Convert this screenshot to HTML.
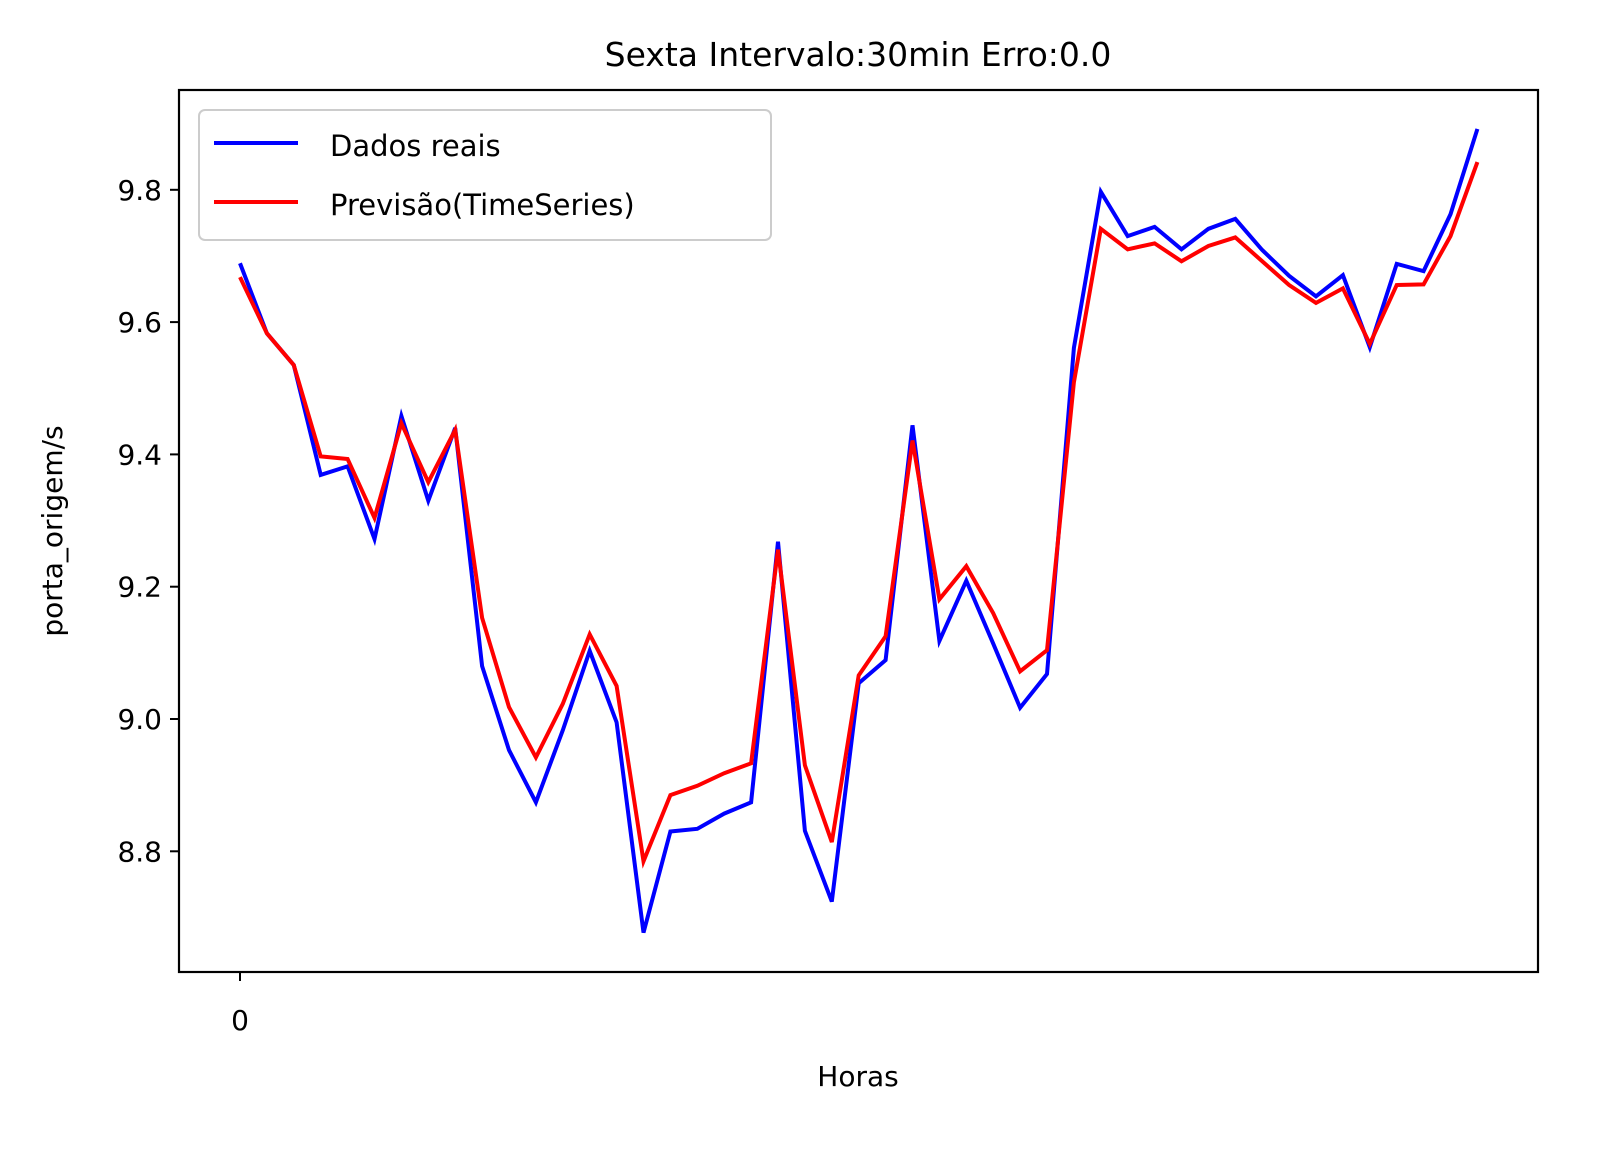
<!DOCTYPE html>
<html><head><meta charset="utf-8">
<style>
body{margin:0;background:#fff;}
svg text{font-family:"DejaVu Sans","Liberation Sans",sans-serif;fill:#000;}
</style></head>
<body>
<svg id="chart" width="1608" height="1154" viewBox="0 0 1608 1154" xmlns="http://www.w3.org/2000/svg">
<rect width="1608" height="1154" fill="#fff"/>
<text x="858" y="66" font-size="33" text-anchor="middle">Sexta Intervalo:30min Erro:0.0</text>
<g id="yticks"></g>
<g id="xticks"></g>
<g id="series"></g>
<rect x="179" y="90" width="1359" height="882" fill="none" stroke="#000" stroke-width="2.2"/>
<text x="858" y="1086" font-size="28" text-anchor="middle">Horas</text>
<text transform="translate(62,531) rotate(-90)" font-size="28" text-anchor="middle">porta_origem/s</text>
<g>
<rect x="199" y="110" width="572" height="130" rx="6" fill="#fff" fill-opacity="0.8" stroke="#ccc" stroke-width="2"/>
<g>
<line x1="214" y1="143" x2="298" y2="143" stroke="#0000ff" stroke-width="4"/>
<text x="330" y="156" font-size="29">Dados reais</text></g>
<g>
<line x1="214" y1="202" x2="298" y2="202" stroke="#ff0000" stroke-width="4"/>
<text x="330" y="215" font-size="29">Previsão(TimeSeries)</text></g>
</g>
</svg>
<script>
const yTicks=[8.8,9.0,9.2,9.4,9.6,9.8];
const yTickLabels=["8.8","9.0","9.2","9.4","9.6","9.8"];
const xTicks=[0];
const xTickLabels=["0"];
const realValues=[9.689,9.583,9.535,9.369,9.382,9.272,9.458,9.33,9.44,9.08,8.953,8.874,8.983,9.103,8.995,8.677,8.83,8.834,8.857,8.874,9.268,8.831,8.724,9.054,9.089,9.444,9.118,9.209,9.114,9.017,9.068,9.561,9.797,9.730,9.744,9.71,9.741,9.756,9.709,9.67,9.639,9.671,9.562,9.688,9.677,9.763,9.892];
const predValues=[9.668,9.583,9.535,9.397,9.393,9.304,9.447,9.358,9.437,9.153,9.018,8.942,9.023,9.128,9.05,8.785,8.885,8.899,8.918,8.933,9.256,8.930,8.814,9.066,9.125,9.421,9.181,9.231,9.160,9.072,9.104,9.509,9.741,9.71,9.719,9.692,9.715,9.728,9.692,9.656,9.629,9.651,9.567,9.656,9.657,9.73,9.842];
const NS="http://www.w3.org/2000/svg";
function xS(i){return 240+i*26.9;}
function yS(v){return 719-(v-9.0)*661.5;}
const yg=document.getElementById('yticks');
yTicks.forEach((t,k)=>{
  const l=document.createElementNS(NS,'line');
  l.setAttribute('x1',179);l.setAttribute('x2',170);
  l.setAttribute('y1',yS(t));l.setAttribute('y2',yS(t));
  l.setAttribute('stroke','#000');l.setAttribute('stroke-width','2');
  
  
  yg.appendChild(l);
  const tx=document.createElementNS(NS,'text');
  tx.setAttribute('x',162);tx.setAttribute('y',yS(t)+10);
  tx.setAttribute('font-size','28');tx.setAttribute('text-anchor','end');
  tx.textContent=yTickLabels[k];
  
  
  yg.appendChild(tx);
});
const xg=document.getElementById('xticks');
xTicks.forEach((t,k)=>{
  const l=document.createElementNS(NS,'line');
  l.setAttribute('x1',xS(t));l.setAttribute('x2',xS(t));
  l.setAttribute('y1',972);l.setAttribute('y2',981);
  l.setAttribute('stroke','#000');l.setAttribute('stroke-width','2');
  
  
  xg.appendChild(l);
  const tx=document.createElementNS(NS,'text');
  tx.setAttribute('x',xS(t));tx.setAttribute('y',1030);
  tx.setAttribute('font-size','28');tx.setAttribute('text-anchor','middle');
  tx.textContent=xTickLabels[k];
  
  
  xg.appendChild(tx);
});
const sg=document.getElementById('series');
function drawLine(vals,color,name){
  const p=document.createElementNS(NS,'polyline');
  p.setAttribute('points',vals.map((v,i)=>xS(i)+','+yS(v)).join(' '));
  p.setAttribute('fill','none');p.setAttribute('stroke',color);
  p.setAttribute('stroke-width','4');p.setAttribute('stroke-linejoin','miter');
  
  
  sg.appendChild(p);
}
drawLine(realValues,'#0000ff','dados-reais-line');
drawLine(predValues,'#ff0000','previsao-line');
</script>
</body></html>
